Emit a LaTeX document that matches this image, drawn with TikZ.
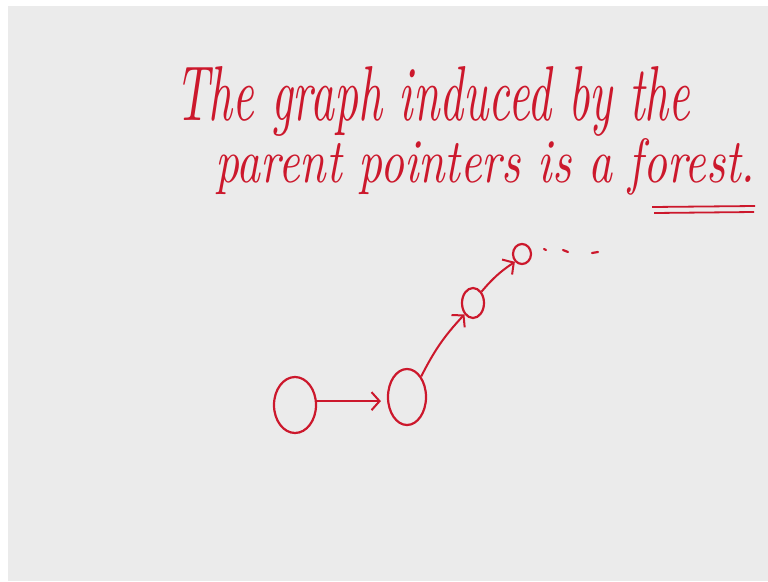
\documentclass[tikz,border=0pt]{standalone}
\usetikzlibrary{shapes.geometric,arrows.meta}
\definecolor{ink}{RGB}{204,24,44}
\definecolor{slide}{RGB}{235,235,235}
\tikzset{
  vtx/.style={ellipse,draw=ink,line width=2.2pt,inner sep=0pt},
  ptr/.style={draw=ink,line width=2pt,-{Straight Barb[length=8pt,width=18pt,line width=2pt]}},
  hand/.style={text=ink,anchor=base west,inner sep=0pt,font=\itshape},
  tick/.style={draw=ink,line width=2.2pt,line cap=round}
}
\begin{document}
\begin{tikzpicture}[x=1pt,y=-1pt]
\useasboundingbox (0,0) rectangle (768,581);
\fill[white] (0,0) rectangle (768,581);
\fill[slide] (8,6) rectangle (768,581);
% text
\node[hand] (l1) at (175,120) {\resizebox{515pt}{54pt}{The graph induced by the}};
\node[hand] (l2) at (215,182) {\resizebox{540pt}{44pt}{parent pointers is a forest.}};
\coordinate (u1a) at (652,207); \coordinate (u1b) at (755,206);
\coordinate (u2a) at (654,213); \coordinate (u2b) at (754,212);
\draw[ink,line width=1.8pt] (u1a) -- (u1b);
\draw[ink,line width=1.8pt] (u2a) -- (u2b);
% nodes
\node[vtx,minimum width=42pt,minimum height=56pt] (a) at (295,405) {};
\node[vtx,minimum width=38pt,minimum height=56pt] (b) at (407,397) {};
\node[vtx,minimum width=22pt,minimum height=30pt] (c) at (473,303) {};
\node[vtx,minimum width=18pt,minimum height=20pt] (d) at (522,254) {};
% arrows
\draw[ptr,shorten >=6pt] (a.10) -- (a.10 -| b.west);
\draw[ptr] (b.north east) to[bend left=8] (c.south west);
\draw[ptr] (c.north east) to[bend left=8] (d.south west);
% trailing dots
\coordinate (t1a) at (544,249); \coordinate (t1b) at (546,250);
\coordinate (t2a) at (563,250); \coordinate (t2b) at (568,252);
\coordinate (t3a) at (592,253); \coordinate (t3b) at (598,252);
\draw[tick] (t1a) -- (t1b);
\draw[tick] (t2a) -- (t2b);
\draw[tick] (t3a) -- (t3b);
\end{tikzpicture}
\end{document}
